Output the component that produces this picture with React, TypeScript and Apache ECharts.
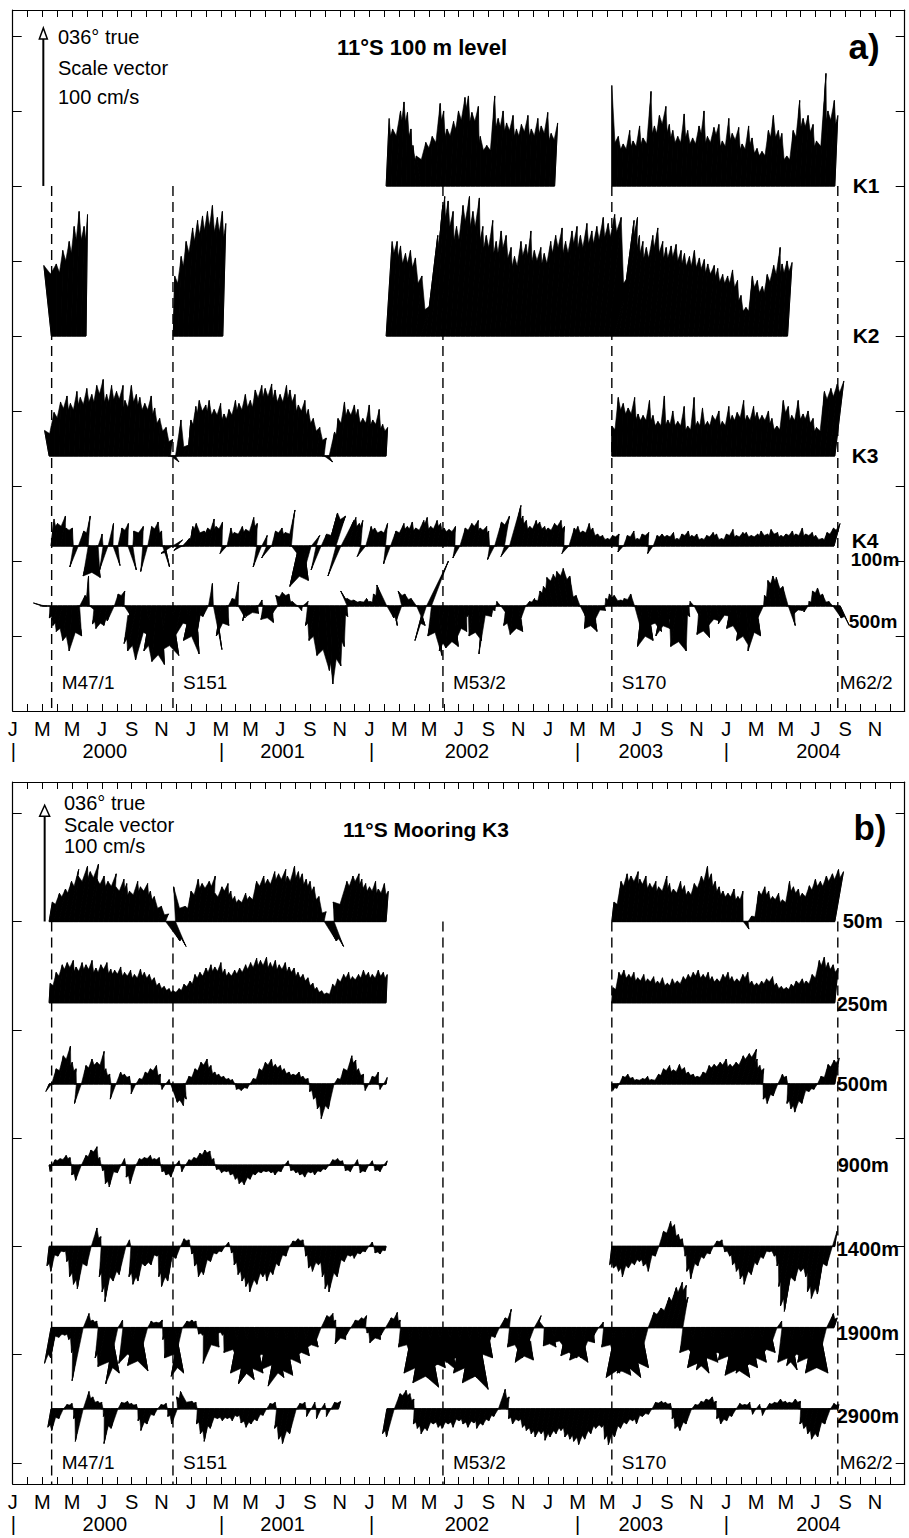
import { useEffect, useRef } from 'react';
import * as echarts from 'echarts';

const FONT = '"Liberation Sans", Arial, Helvetica, sans-serif';
const STEP = 1 / 3; // months between sticks (~10 days)
const NOTCH = 0.88; // drawing only: depth of the gap drawn between two neighbouring sticks

// ---------- axis text ----------
const MONTH_LETTERS = ['J', 'F', 'M', 'A', 'M', 'J', 'J', 'A', 'S', 'O', 'N', 'D'];
const MONTH_LABEL_VALUES = [0, 2, 4, 6, 8, 10, 12, 14, 16, 18, 20, 22, 24, 26, 28, 30, 32, 34, 36, 38, 40, 42, 44, 46, 48, 50, 52, 54, 56, 58];
const YEAR_LABELS = ['|', '2000', '|', '2001', '|', '2002', '|', '2003', '|', '2004'];
const YEAR_LABEL_MONTHS = [0.04, 6.2, 14.05, 18.15, 24.14, 30.55, 38.0, 42.25, 48.0, 54.2];
const CRUISES = ['M47/1', 'S151', 'M53/2', 'S170', 'M62/2'];
const CRUISE_MONTHS = [2.62, 10.78, 28.94, 40.3, 55.5];
const A_TICKS = [0, 50, 100, 150, 200, 250, 300, 350, 400];
const B_TICKS = [0, 100, 200, 300, 400, 500, 600];
const SCALE_VECTOR = 100; // cm/s

// ---------- panel a: 11°S 100 m level (cm/s, along 036° = v, across = u) ----------
const A_LABELS = ['K1', 'K2', 'K3', 'K4', '100m', '500m'];
const A_LABEL_BASES = [300, 200, 120, 60, 60, 20];

const K1_A_START = 25.12;
const K1_A_V = [45, 38, 50, 56, 49, 38, 27, 20, 29, 33, 55, 50, 38, 43, 50, 59, 60, 49, 53, 33, 27, 60, 45, 50, 42, 47, 38, 41, 47, 38, 45, 40, 49, 35, 42];
const K1_A_U = [2, 1, 3, 2, 1, 0, -2, -3, 0, 1, 3, 2, 1, 2, 2, 3, 2, 1, 2, 0, 1, 3, 2, 2, 1, 2, 1, 1, 2, 1, 2, 1, 2, 1, 2];
const K1_B_START = 40.3;
const K1_B_V = [67, 33, 28, 37, 30, 40, 32, 63, 40, 47, 53, 41, 37, 33, 48, 37, 32, 40, 50, 33, 39, 41, 30, 45, 35, 39, 28, 40, 32, 25, 23, 37, 47, 37, 35, 20, 37, 57, 45, 47, 41, 30, 75, 50, 57, 47];
const K1_B_U = [0, 1, 1, 2, 1, 2, 1, 3, 2, 2, 3, 2, 1, 1, 2, 1, 1, 2, 2, 1, 2, 2, 1, 2, 1, 2, 1, 2, 1, 1, 1, 2, 2, 2, 1, 1, 2, 3, 2, 2, 2, 1, 4, 2, 3, 2];

const K2_A_START = 2.6;
const K2_A_V = [47, 48, 57, 63, 73, 83, 73, 81];
const K2_A_U = [-5, 0, 1, 2, 2, 2, 2, 1];
const K2_B_START = 10.8;
const K2_B_V = [40, 53, 63, 72, 77, 80, 83, 87, 79, 83, 75];
const K2_B_U = [1, 2, 2, 3, 3, 3, 3, 3, 3, 3, 2];
const K2_C_START = 25.12;
const K2_C_V = [63, 63, 60, 55, 57, 52, 40, 20, 67, 87, 93, 90, 83, 73, 87, 93, 83, 92, 73, 67, 77, 63, 70, 67, 59, 53, 63, 61, 70, 57, 59, 55, 63, 67, 72, 63, 70, 73, 67, 75, 70, 73, 79, 75, 81, 79, 40, 77, 79, 67, 63, 59, 67, 72, 63, 59, 60, 61, 57, 55, 53, 57, 52, 51, 48, 47, 45, 41, 40, 44, 37, 27, 19, 40, 37, 33, 41, 47, 59, 48, 50, 49];
const K2_C_U = [4, 4, 3, 3, 3, 3, 4, 6, 8, 8, 6, 5, 5, 4, 5, 6, 5, 6, 5, 4, 5, 4, 4, 4, 4, 3, 4, 4, 4, 3, 4, 3, 4, 4, 5, 4, 5, 5, 4, 5, 5, 5, 6, 6, 7, 8, 10, 10, 9, 7, 6, 5, 6, 6, 6, 5, 5, 5, 5, 4, 4, 4, 4, 4, 3, 4, 3, 3, 3, 3, 3, 2, 2, 3, 3, 3, 3, 4, 5, 3, 3, 3];

const K3_A_START = 2.45;
const K3_A_V = [17, 29, 36, 40, 35, 43, 39, 45, 41, 47, 51, 41, 47, 43, 47, 37, 47, 41, 39, 35, 40, 32, 25, 19, 11, -4, 24, 7, 24, 33, 37, 34, 37, 31, 35, 28, 31, 37, 35, 41, 37, 44, 47, 45, 48, 44, 41, 47, 44, 41, 34, 37, 31, 25, 19, 12, -4, 16, 25, 36, 31, 34, 31, 25, 34, 24, 31, 21, 19];
const K3_A_U = [-3, 0, 1, 2, 1, 2, 1, 2, 2, 2, 3, 2, 2, 2, 3, 1, 2, 2, 1, 1, 2, 1, 1, 2, 3, 4, 2, 3, 2, 2, 1, 2, 1, 1, 2, 1, 1, 2, 1, 2, 2, 2, 3, 2, 3, 2, 2, 3, 2, 2, 1, 2, 1, 1, 2, 3, 4, 2, 1, 2, 1, 2, 1, 1, 2, 1, 2, 1, 1];
const K3_B_START = 40.3;
const K3_B_V = [20, 39, 35, 32, 39, 28, 27, 37, 27, 23, 40, 24, 30, 23, 33, 20, 39, 23, 32, 23, 27, 30, 23, 33, 27, 29, 37, 27, 33, 29, 27, 30, 25, 20, 37, 33, 27, 37, 28, 30, 25, 19, 43, 45, 48, 50];
const K3_B_U = [0, 1, 1, 1, 2, 1, 1, 2, 1, 1, 2, 1, 1, 1, 2, 1, 2, 1, 1, 1, 1, 2, 1, 2, 1, 1, 2, 1, 2, 1, 1, 2, 1, 1, 2, 2, 1, 2, 2, 2, 2, 1, 3, 4, 5, 6];

const K4_100_START = 2.58;
const K4_100_V = [18, 15, 20, 12, 12, -14, 10, 20, -20, -21, 8, -16, 15, -13, 12, 15, -16, 10, 13, -17, 13, 16, 10, -14, -5, 4, -3, 5, 13, 15, 10, 12, 18, 13, 16, -5, 12, 9, 13, 11, 19, 15, -14, 7, -8, 10, 12, 9, 24, -10, -27, -23, -20, 7, -16, 8, 22, 20, -20, 17, 19, 15, 17, -7, 13, 12, 10, 15, -12, 10, 15, 13, 16, 12, 17, 19, 13, 17, 15, 12, 11, 13, -8, 12, 15, 17, 12, 13, 10, -9, 16, 20, -7, 27, 20, 17, 13, 17, 16, 13, 12, 15, 17, 13, -5, 12, 13, 10, 15, 12, 8, 7, 5, 7, 8, -4, 7, 10, 5, 8, 9, -5, 7, 8, 7, 9, 5, 8, 10, 7, 8, 5, 7, 9, 8, 5, 8, 11, 7, 9, 9, 7, 8, 10, 8, 11, 9, 7, 8, 10, 8, 12, 8, 9, 7, 5, 9, 12, 15];
const K4_100_U = [2, 1, 3, 0, 1, -4, 2, 3, -5, 3, 1, -4, 2, 3, 1, 2, 4, -1, 2, -3, 1, 2, 1, 3, -6, 5, -4, 3, 2, 1, 3, 2, 3, 1, 2, -3, 1, 0, 2, 1, 3, 2, -4, 2, -5, 1, 2, 1, 4, 6, -6, 3, -4, 4, -5, 2, 6, 8, -7, 7, 5, 4, 3, -4, 2, 1, 2, 3, -3, 2, 4, 3, 3, 2, 4, 3, 2, 3, 2, 1, 1, 2, -3, 2, 3, 4, 2, 3, 1, -3, 3, 5, -4, 6, 4, 3, 2, 3, 2, 2, 1, 2, 3, 2, -3, 2, 1, 1, 2, 1, 1, 1, 1, 1, 2, -2, 1, 2, 1, 1, 2, -2, 1, 1, 1, 2, 1, 1, 2, 1, 1, 1, 1, 2, 1, 1, 1, 2, 1, 2, 1, 1, 2, 1, 2, 1, 2, 1, 1, 2, 1, 2, 1, 2, 1, 2, 2, 3, 4];

const K4_500_START = 2.0;
const K4_500_V = [2, 0, -8, -13, -17, -23, -30, -20, 7, 20, -3, -12, -15, -13, -10, 8, 10, -7, -25, -30, -36, -20, -30, -37, -39, -30, -33, -17, -20, -13, -23, -32, -20, -7, 15, -29, -20, -13, 5, 16, -8, -10, -7, -5, 4, -9, -11, -5, 7, 9, 8, 3, -3, 3, -13, -23, -33, -43, -52, -40, -27, -7, 10, 5, 4, 3, 5, 3, 8, 14, -8, -13, -10, 10, 8, 5, -13, -23, 30, -20, -33, -30, -28, -27, -23, -17, -7, -20, -23, -32, -7, -3, 3, -5, -13, -19, -17, -10, 3, 5, 4, 10, 13, 19, 21, 23, 25, 20, 7, -7, -15, -17, -10, -3, 5, 8, 7, 4, 5, 8, -17, -27, -23, -13, -17, -20, -15, -10, -27, -30, -7, 3, -7, -19, -21, -13, -10, -12, -7, -15, -20, -23, -27, -30, -20, -10, 7, 17, 20, 19, 13, -13, -5, -3, -4, 3, 10, 12, 8, 3, -8, -13];
const K4_500_U = [-6, -5, -2, -3, -4, -3, -2, 3, 2, 1, 2, -3, -4, -2, -3, 1, 2, 3, -5, -6, -4, 3, -5, -3, 2, -4, 5, -6, -4, 3, -5, 2, -3, -2, 1, 4, -3, 2, 1, 2, 3, -2, -3, 2, 1, -3, 2, -2, -3, -2, -1, -2, 1, 2, -3, -4, -2, 3, 2, 4, 3, 2, -6, -5, -4, -3, -2, -3, -4, -5, 3, 2, -2, -4, -3, -2, 4, -6, 13, -4, 2, -3, -2, 3, -2, 2, -1, -3, 2, -3, 2, 1, -1, 2, -3, -2, 3, -2, 1, 1, -2, -2, -3, -4, -3, -4, -3, -2, -1, 2, -2, 3, -2, 2, -1, -2, -2, -1, -2, -1, 3, -3, 4, -2, 3, -4, 2, -3, -4, 3, 2, -1, 2, -3, 2, -2, 2, -2, 3, -3, 2, -3, 2, -2, 3, -3, -1, -2, -2, -3, -2, 3, -1, 1, -1, -1, -2, -2, -2, -1, 4, 6];

// ---------- panel b: 11°S mooring K3 ----------
const B_LABELS = ['50m', '250m', '500m', '900m', '1400m', '1900m', '2900m'];
const B_LABEL_BASES = [500, 425, 350, 275, 200, 125, 50];

const P50_A_START = 2.45;
const P50_A_V = [18, 26, 30, 37, 48, 42, 51, 46, 53, 39, 42, 37, 44, 32, 39, 35, 28, 37, 32, 35, 28, 23, 14, 7, -18, -23, 32, 14, 28, 39, 35, 37, 42, 26, 32, 35, 28, 23, 20, 26, 23, 37, 42, 39, 46, 44, 48, 42, 51, 46, 44, 39, 37, 32, 23, 9, -18, -23, 18, 37, 42, 44, 39, 35, 32, 37, 30, 35, 28];
const P50_A_U = [3, 5, 6, 7, 9, 4, 8, 6, 9, 3, 5, 4, 7, 2, 5, 3, 1, 4, 2, 4, 2, 1, 3, 5, 11, 12, -4, 2, 3, 5, 4, 6, 7, 2, 4, 5, 3, 2, 1, 3, 2, 4, 6, 5, 7, 6, 8, 5, 7, 6, 5, 4, 3, 2, 2, 4, 9, 11, -3, 5, 6, 7, 5, 4, 3, 4, 2, 3, 2];
const P50_B_START = 40.3;
const P50_B_V = [18, 37, 44, 42, 46, 39, 42, 35, 37, 32, 42, 35, 30, 37, 33, 28, 35, 42, 51, 44, 37, 32, 28, 26, 30, 23, 28, -7, 5, 28, 32, 28, 23, 26, 20, 37, 32, 30, 26, 33, 39, 37, 42, 44, 48, 46];
const P50_B_U = [2, 4, 5, 4, 6, 3, 4, 3, 4, 2, 5, 3, 2, 4, 3, 2, 3, 5, 6, 5, 4, 3, 2, 2, 3, 2, 2, 3, 1, 3, 4, 3, 2, 3, 2, 4, 3, 3, 2, 4, 5, 5, 6, 7, 8, 8];

const P250_A_START = 2.45;
const P250_A_V = [18, 28, 35, 37, 39, 33, 37, 35, 39, 32, 35, 37, 31, 30, 33, 28, 30, 26, 31, 28, 26, 23, 18, 15, 13, 11, 13, 17, 20, 26, 28, 32, 35, 33, 37, 31, 28, 30, 32, 35, 37, 41, 39, 42, 37, 39, 35, 37, 33, 32, 28, 26, 23, 18, 14, 11, 9, 17, 22, 26, 28, 24, 26, 30, 28, 26, 30, 28, 26];
const P250_A_U = [1, 2, 3, 3, 4, 2, 3, 2, 3, 2, 2, 3, 2, 1, 2, 1, 2, 1, 2, 1, 1, 1, 1, 1, 1, 0, 1, 1, 2, 2, 2, 3, 3, 2, 3, 2, 1, 2, 2, 3, 3, 4, 3, 4, 3, 3, 2, 3, 2, 2, 1, 1, 1, 1, 0, 0, 0, 1, 1, 2, 2, 1, 2, 2, 2, 1, 2, 2, 1];
const P250_B_START = 40.3;
const P250_B_V = [14, 28, 30, 26, 28, 23, 26, 22, 24, 20, 23, 18, 22, 20, 24, 26, 28, 30, 26, 28, 24, 22, 26, 28, 24, 22, 26, 28, 20, 18, 20, 22, 24, 18, 15, 14, 17, 20, 22, 20, 26, 39, 42, 37, 35, 32];
const P250_B_U = [1, 2, 2, 2, 2, 1, 2, 1, 2, 1, 1, 1, 1, 1, 2, 2, 2, 2, 2, 2, 1, 1, 2, 2, 1, 1, 2, 2, 1, 1, 1, 1, 2, 1, 1, 1, 1, 1, 2, 1, 2, 4, 4, 3, 3, 3];

const P500_A_START = 2.45;
const P500_A_V = [-7, 14, 26, 35, 20, 14, -18, 17, 23, 20, 30, 14, 9, -14, 11, 9, 7, -9, 5, 11, 14, 17, 9, -5, 4, -17, -20, -14, 7, 14, 20, 23, 17, 11, 9, 7, 5, 4, -5, -6, -4, 5, 14, 20, 23, 18, 17, 14, 11, 9, 11, 7, 5, -7, -14, -23, -32, -23, 5, 14, 26, 22, 14, 9, -6, 7, 11, -5, 6];
const P500_A_U = [-3, 2, 4, 6, 3, 2, -4, 2, 3, 3, 5, 2, 1, -3, 2, 1, 1, -2, 1, 2, 2, 3, 2, -1, 1, 4, 5, 3, 1, 2, 3, 4, 3, 2, 1, 1, 1, 0, -1, -1, 0, 1, 2, 3, 4, 3, 3, 2, 2, 1, 2, 1, 1, -2, -3, -4, -5, -3, 1, 2, 5, 4, 2, 2, -1, 1, 2, -1, 1];
const P500_B_START = 40.3;
const P500_B_V = [-6, -4, 7, 9, 6, 4, 5, 7, 4, 9, 14, 17, 13, 18, 15, 11, 9, 7, 11, 17, 18, 20, 23, 18, 20, 26, 28, 32, 23, 17, 14, -14, -18, -11, 9, 7, -18, -23, -26, -18, -7, -5, 7, 18, 22, 24];
const P500_B_U = [1, 0, 1, 1, 1, 0, 1, 1, 0, 2, 2, 3, 2, 3, 3, 2, 2, 1, 2, 3, 3, 4, 5, 4, 5, 7, 8, 10, 6, 4, 3, -2, -3, -2, 2, 1, -3, -4, -5, -3, -1, -1, 1, 3, 4, 4];

const P900_START = 2.45;
const P900_V = [-6, 5, 6, 9, 7, -9, -14, 9, 14, 17, 7, -5, -17, -20, -7, 6, -11, -17, 6, 7, 9, 6, 7, -6, -9, -11, 4, -6, 5, 7, 11, 14, 13, 6, -4, -7, -6, -9, -13, -17, -18, -13, -9, -7, -6, -7, -9, -6, 4, -5, -7, -9, -11, -7, -9, -6, -4, 5, 6, 4, -5, -6, 5, -7, -6, 4, -5, -6, 4];
const P900_U = [1, 1, 1, 2, 1, -2, -3, 2, 2, 3, 1, -1, -3, -4, -1, 1, -2, -3, 1, 1, 2, 1, 1, -1, -2, -2, 1, -1, 1, 1, 2, 2, 2, 1, -1, -1, -1, -2, -2, -3, -3, -2, -2, -1, -1, -1, -2, -1, 1, -1, -1, -2, -2, -1, -2, -1, -1, 1, 1, 1, -1, -1, 1, -1, -1, 1, -1, -1, 1];

const P1400_A_START = 2.45;
const P1400_A_V = [-18, -23, -9, -5, -14, -28, -35, -39, -18, 17, 9, -28, -42, -51, -32, -26, 6, -28, -35, -32, -18, -17, -9, -28, -37, -32, -11, 7, 6, -7, -18, -28, -26, -14, -7, -5, 4, -6, -17, -26, -32, -37, -42, -35, -28, -32, -26, -18, -9, 5, 7, 6, -9, -20, -23, -17, -28, -39, -42, -28, -14, -9, -11, -7, -5, 4, -6, -7, -4];
const P1400_A_U = [-2, -3, -1, 0, -2, -4, -5, -6, -2, 3, 2, -4, -6, -8, -5, -4, 1, -4, -5, -5, -3, -2, -1, -4, -6, -5, -2, 1, 1, -1, -3, -4, -4, -2, -1, -1, 1, -1, -3, -4, -5, -6, -7, -5, -4, -5, -4, -3, -1, 1, 1, 1, -1, -3, -4, -3, -4, -6, -7, -4, -2, -1, -2, -1, -1, 1, -1, -1, -1];
const P1400_B_START = 40.3;
const P1400_B_V = [-17, -20, -23, -28, -20, -17, -14, -18, -23, -9, 14, 23, 20, 11, 7, -9, -23, -30, -18, -11, -7, 5, 6, -5, -9, -17, -23, -30, -35, -26, -17, -11, -5, -9, -18, -37, -55, -60, -32, -23, -28, -42, -48, -44, -18, 14];
const P1400_B_U = [-2, -3, -3, -4, -3, -2, -2, -3, -3, -1, 2, 4, 3, 2, 1, -1, -4, -5, -3, -2, -1, 1, 1, -1, -1, -3, -4, -5, -6, -4, -3, -2, -1, -1, -3, -6, -9, -10, -5, -4, -4, -7, -8, -7, -3, 2];

const P1900_START = 2.58;
const P1900_V = [-33, -28, -9, -7, -11, -23, -49, 13, 7, 6, -28, -36, -42, -52, 7, -33, -28, -35, -40, -23, 6, 5, 7, -11, -28, -42, -45, 6, 7, 6, -6, -7, -33, -18, -5, -7, -23, -37, -42, -48, -52, -42, -35, -28, -39, -46, -54, -44, -37, -33, -28, -26, -20, -18, -14, 11, 13, 7, -15, -11, -7, 7, 9, 11, -5, -14, -11, -7, 9, 14, 7, -18, -37, -42, -46, -51, -55, -42, -37, -35, -39, -32, -37, -42, -46, -51, -57, -46, -28, -23, -9, 9, 17, -18, -28, -32, -30, -14, 11, 7, -17, -18, -14, -20, -26, -28, -30, -32, -28, -14, -7, 5, -18, -42, -46, -44, -42, -46, -39, -37, -28, 14, 18, 28, 37, 42, 39, 28, -23, -28, -37, -42, -39, -32, -28, -26, -30, -37, -44, -46, -42, -37, -35, -32, -28, -23, -18, 6, -32, -39, -35, -28, -32, -37, -42, -42, -37, 13, 9];
const P1900_U = [-6, -5, -2, -1, -2, -4, -8, 3, 2, 1, -5, -7, 8, -9, 2, -6, 5, -7, 7, -4, 1, 1, 2, -2, -5, 8, -8, 2, 2, 1, -1, -2, -6, 4, -1, -2, -5, 7, -8, 9, -10, 8, -7, 6, -8, 9, -10, 8, -7, 6, -5, 5, -4, 4, -3, 3, 4, 2, -3, 2, -2, 2, 3, 3, -1, -3, 2, -2, 3, 4, 2, -4, 7, -8, 9, -9, 10, -8, 7, -7, 8, -6, 7, -8, 9, -9, 10, -9, 5, -5, -2, 3, 4, -4, 5, -6, 6, -3, 4, -3, -3, 4, -3, 4, -5, 5, -6, 6, -5, 3, -2, 2, -4, 8, -9, 9, -8, 9, -7, 7, -5, 3, 5, 8, 10, 11, 10, 7, -5, 6, -7, 8, -8, 7, -6, 5, -6, 7, -9, 9, -8, 7, -7, 6, -6, 5, -4, 2, -6, 7, -7, 6, -6, 7, -8, 8, -7, 4, 3];

const P2900_A_START = 2.58;
const P2900_A_V = [-17, -20, -9, 4, 5, -9, -30, 16, 11, 7, 6, -7, -32, -18, 6, 7, 5, 4, -11, -20, -14, -6, 4, 5, -7, -14, 11, 16, 7, 6, -14, -23, -30, -18, -9, -11, -9, -11, -7, -13, -17, -14, -11, -6, 5, 6, -18, -28, -32, -23, 5, 6, -7, 6, -9, 5, -7, 6, 7];
const P2900_A_U = [-3, -4, -2, 1, 1, -2, -5, 3, 2, 2, 1, -2, -6, -4, 1, 2, 1, 1, -2, -4, -3, -1, 1, 1, -2, -3, -3, -4, 2, 1, -3, -4, -5, -4, -2, -2, -2, -2, -2, -3, -3, -3, -2, -1, 1, 1, -4, -5, -6, -4, 1, 1, -2, 1, -2, 1, -2, 1, 2];
const P2900_B_START = 25.17;
const P2900_B_V = [-23, -26, 14, 17, 14, 9, -14, -18, -23, -20, -14, -17, -18, -14, -17, -11, -14, -17, -13, -18, -15, -11, -7, 18, 11, -9, -14, -11, -17, -20, -23, -26, -23, -29, -26, -23, -20, -26, -28, -30, -33, -28, -23, -18, -17, -28, -33, -26, -18, -14, -11, -14, -7, -5, 6, 7, 6, 5, -9, -18, -20, -14, 4, 7, 9, 11, 7, -9, -14, -11, -7, 5, 4, 6, -5, 4, -6, 5, 6, 9, 7, 6, 9, 7, -14, -18, -23, -28, -26, -14, 5, 4];
const P2900_B_U = [-4, -5, 3, 4, 3, 2, -3, -4, -5, -4, -3, -3, -4, -3, -3, -2, -3, -3, -2, -4, -3, -2, -2, 4, 3, -2, -3, -2, -3, -4, -4, -5, -4, -5, -5, -4, -4, -5, -5, -6, -6, -5, -4, -4, -3, -5, -6, -5, -4, -3, -2, -3, -2, -1, 1, 2, 1, 1, -2, -4, -4, -3, 1, 2, 2, 3, 2, -2, -3, -2, -2, 1, 1, 1, -1, 1, -1, 1, 1, 2, 2, 1, 2, 2, -3, -4, -5, -6, -5, -3, 1, 1];

// ---------- tables built from the arrays ----------
const PANEL_A_SEGMENTS = [
  [K1_A_START, 300, K1_A_V, K1_A_U], [K1_B_START, 300, K1_B_V, K1_B_U],
  [K2_A_START, 200, K2_A_V, K2_A_U], [K2_B_START, 200, K2_B_V, K2_B_U], [K2_C_START, 200, K2_C_V, K2_C_U],
  [K3_A_START, 120, K3_A_V, K3_A_U], [K3_B_START, 120, K3_B_V, K3_B_U],
  [K4_100_START, 60, K4_100_V, K4_100_U],
  [K4_500_START, 20, K4_500_V, K4_500_U],
];
const PANEL_B_SEGMENTS = [
  [P50_A_START, 500, P50_A_V, P50_A_U], [P50_B_START, 500, P50_B_V, P50_B_U],
  [P250_A_START, 425, P250_A_V, P250_A_U], [P250_B_START, 425, P250_B_V, P250_B_U],
  [P500_A_START, 350, P500_A_V, P500_A_U], [P500_B_START, 350, P500_B_V, P500_B_U],
  [P900_START, 275, P900_V, P900_U],
  [P1400_A_START, 200, P1400_A_V, P1400_A_U], [P1400_B_START, 200, P1400_B_V, P1400_B_U],
  [P1900_START, 125, P1900_V, P1900_U],
  [P2900_A_START, 50, P2900_A_V, P2900_A_U], [P2900_B_START, 50, P2900_B_V, P2900_B_U],
];

function buildStickData(segments: any[]) {
  const out: number[][] = [];
  segments.forEach(([start, base, v, u]) => {
    v.forEach((val: number, i: number) => {
      const hasNext = i + 1 < v.length;
      out.push([
        start + i * STEP, base, val, u[i] || 0,
        hasNext ? start + (i + 1) * STEP : -1,
        hasNext ? v[i + 1] : 0,
        hasNext ? u[i + 1] || 0 : 0,
      ]);
    });
  });
  return out;
}

// one side (above or below the base line) of the band between two neighbouring sticks
function sidePolygon(p0: number[], p1: number[], v: number, u: number, vn: number, un: number, k: number, sign: number) {
  const a = sign > 0 ? Math.max(v, 0) : Math.min(v, 0);
  const b = sign > 0 ? Math.max(vn, 0) : Math.min(vn, 0);
  if (a === 0 && b === 0) return null;
  const ua = a !== 0 ? u : 0;
  const ub = b !== 0 ? un : 0;
  const m = (sign > 0 ? Math.min(a, b) : Math.max(a, b)) * NOTCH;
  const mu = m !== 0 ? ((ua + ub) / 2) * NOTCH : 0;
  const y = p0[1];
  return {
    type: 'polygon',
    shape: {
      points: [
        [p0[0], y],
        [p0[0] + ua * k, y - a * k],
        [(p0[0] + p1[0]) / 2 + mu * k, y - m * k],
        [p1[0] + ub * k, y - b * k],
        [p1[0], y],
      ],
    },
    style: { fill: '#000', stroke: '#000', lineWidth: 0.6 },
  };
}

const renderSticks = (params: any, api: any) => {
  const t = api.value(0), base = api.value(1), v = api.value(2), u = api.value(3);
  const tn = api.value(4), vn = api.value(5), un = api.value(6);
  const k = api.size([0, 1])[1];
  const p0 = api.coord([t, base]);
  const tip0 = [p0[0] + u * k, p0[1] - v * k];
  const children: any[] = [];
  if (tn >= 0) {
    const p1 = api.coord([tn, base]);
    const up = sidePolygon(p0, p1, v, u, vn, un, k, 1);
    const down = sidePolygon(p0, p1, v, u, vn, un, k, -1);
    if (up) children.push(up);
    if (down) children.push(down);
    children.push({ type: 'line', shape: { x1: p0[0], y1: p0[1], x2: p1[0], y2: p1[1] }, style: { stroke: '#000', lineWidth: 1.4 } });
  }
  children.push({ type: 'line', shape: { x1: p0[0], y1: p0[1], x2: tip0[0], y2: tip0[1] }, style: { stroke: '#000', lineWidth: 1 } });
  return { type: 'group', children };
};

const renderArrow = (headW: number) => (params: any, api: any) => {
  const t = api.value(0), base = api.value(1), len = api.value(2);
  const p0 = api.coord([t, base]);
  const p1 = api.coord([t, base + len]);
  return {
    type: 'group',
    children: [
      { type: 'line', shape: { x1: p0[0], y1: p0[1], x2: p1[0], y2: p1[1] + 2 }, style: { stroke: '#000', lineWidth: 2 } },
      { type: 'polygon', shape: { points: [[p1[0], p1[1] - 8], [p1[0] - headW / 2, p1[1] + 3], [p1[0] + headW / 2, p1[1] + 3]] }, style: { fill: '#fff', stroke: '#000', lineWidth: 1.5 } },
    ],
  };
};

const CRUISE_LABEL_DX = [10, 10, 10, 10, 2];
const renderCruise = (params: any, api: any) => {
  const i = params.dataIndex;
  const m = api.value(0);
  const pTop = api.coord([m, api.value(1)]);
  const pBot = api.coord([m, api.value(2)]);
  const pLab = api.coord([m, api.value(3)]);
  return {
    type: 'group',
    children: [
      { type: 'line', shape: { x1: pTop[0], y1: pTop[1], x2: pBot[0], y2: pBot[1] }, style: { stroke: '#000', lineWidth: 1.4, lineDash: [10, 6] } },
      { type: 'text', x: pLab[0] + CRUISE_LABEL_DX[i], y: pLab[1], style: { text: CRUISES[i], font: `19px ${FONT}`, fill: '#000', align: 'left', verticalAlign: 'middle' } },
    ],
  };
};

const A_LABEL_DX = [-52, -52, -53, -53, -54, -56];
const A_LABEL_DY = [0, 0, 0, -5, 14, 16];
const A_LABEL_SIZE = [21, 21, 21, 21, 19, 19];
const B_LABEL_DX = [-62, -68, -68, -67, -68, -68, -68];
const B_LABEL_DY = [0, 1, 0, 0, 3, 5, 7];
const B_LABEL_SIZE = [20, 20, 20, 20, 20, 20, 20];
const renderSideLabels = (names: string[], dxs: number[], dys: number[], sizes: number[]) => (params: any, api: any) => {
  const i = params.dataIndex;
  const p = api.coord([0, api.value(1)]);
  const cs = params.coordSys;
  return {
    type: 'text', x: cs.x + cs.width + dxs[i], y: p[1] + dys[i],
    style: { text: names[i], font: `bold ${sizes[i]}px ${FONT}`, fill: '#000', align: 'left', verticalAlign: 'middle' },
  };
};

function monthAxes(grid: number) {
  const line = { show: true, onZero: false, lineStyle: { color: '#000', width: 1.2 } };
  return [
    {
      type: 'value', gridIndex: grid, position: 'bottom', min: 0, max: 60, interval: 1,
      axisLine: line,
      axisTick: { show: true, inside: true, length: 7, lineStyle: { color: '#000', width: 1 } },
      axisLabel: {
        show: true, customValues: MONTH_LABEL_VALUES, margin: 8,
        formatter: (v: number) => MONTH_LETTERS[Math.round(v) % 12],
        color: '#000', fontSize: 20, fontFamily: FONT,
      },
      splitLine: { show: false },
    },
    {
      type: 'value', gridIndex: grid, position: 'top', min: 0, max: 60, interval: 1,
      axisLine: line,
      axisTick: { show: true, inside: true, length: 7, lineStyle: { color: '#000', width: 1 } },
      axisLabel: { show: false },
      splitLine: { show: false },
    },
    {
      type: 'value', gridIndex: grid, position: 'bottom', offset: 22, min: 0, max: 60,
      axisLine: { show: false }, axisTick: { show: false },
      axisLabel: {
        show: true, customValues: YEAR_LABEL_MONTHS, margin: 8,
        formatter: (v: number) => {
          const i = YEAR_LABEL_MONTHS.findIndex((m) => Math.abs(m - v) < 1e-6);
          return i >= 0 ? YEAR_LABELS[i] : '';
        },
        color: '#000', fontSize: 20, fontFamily: FONT,
      },
      splitLine: { show: false },
    },
  ];
}

function valueAxes(grid: number, min: number, max: number, ticks: number[]) {
  const base = {
    type: 'value', gridIndex: grid, min, max,
    axisLine: { show: true, onZero: false, lineStyle: { color: '#000', width: 1.2 } },
    axisTick: { show: true, inside: true, length: 9, customValues: ticks, lineStyle: { color: '#000', width: 1 } },
    axisLabel: { show: false },
    splitLine: { show: false },
  };
  return [{ ...base, position: 'left' }, { ...base, position: 'right' }];
}

export default function App() {
  const ref = useRef<HTMLDivElement>(null);
  useEffect(() => {
    if (!ref.current) return;
    const chart = echarts.init(ref.current, null, { renderer: 'svg' });
    const textStyle = (size: number, weight = 'normal') => ({ font: `${weight} ${size}px ${FONT}`, fill: '#000' });
    const option: any = {
      animation: false,
      backgroundColor: '#fff',
      grid: [
        { left: 12.7, top: 10, width: 892, height: 701 },
        { left: 12.7, top: 782, width: 892, height: 702 },
      ],
      xAxis: [...monthAxes(0), ...monthAxes(1)],
      yAxis: [...valueAxes(0, -50, 417.3, A_TICKS), ...valueAxes(1, -19.4, 628.8, B_TICKS)],
      series: [
        {
          type: 'custom', name: 'cruisesA', xAxisIndex: 0, yAxisIndex: 0, clip: false, silent: true,
          data: CRUISE_MONTHS.map((m) => [m, 300, -50, -31]), renderItem: renderCruise, z: 1,
        },
        {
          type: 'custom', name: 'cruisesB', xAxisIndex: 3, yAxisIndex: 2, clip: false, silent: true,
          data: CRUISE_MONTHS.map((m) => [m, 500, -19.4, 0.5]), renderItem: renderCruise, z: 1,
        },
        {
          type: 'custom', name: 'sticksA', xAxisIndex: 0, yAxisIndex: 0, clip: false, silent: true,
          data: buildStickData(PANEL_A_SEGMENTS), renderItem: renderSticks, z: 2,
        },
        {
          type: 'custom', name: 'sticksB', xAxisIndex: 3, yAxisIndex: 2, clip: false, silent: true,
          data: buildStickData(PANEL_B_SEGMENTS), renderItem: renderSticks, z: 2,
        },
        {
          type: 'custom', name: 'scaleA', xAxisIndex: 0, yAxisIndex: 0, clip: false, silent: true,
          data: [[2.06, 300, SCALE_VECTOR]], renderItem: renderArrow(8), z: 3,
        },
        {
          type: 'custom', name: 'scaleB', xAxisIndex: 3, yAxisIndex: 2, clip: false, silent: true,
          data: [[2.15, 500, SCALE_VECTOR]], renderItem: renderArrow(10), z: 3,
        },
        {
          type: 'custom', name: 'labelsA', xAxisIndex: 0, yAxisIndex: 0, clip: false, silent: true,
          data: A_LABEL_BASES.map((b) => [0, b]), renderItem: renderSideLabels(A_LABELS, A_LABEL_DX, A_LABEL_DY, A_LABEL_SIZE), z: 4,
        },
        {
          type: 'custom', name: 'labelsB', xAxisIndex: 3, yAxisIndex: 2, clip: false, silent: true,
          data: B_LABEL_BASES.map((b) => [0, b]), renderItem: renderSideLabels(B_LABELS, B_LABEL_DX, B_LABEL_DY, B_LABEL_SIZE), z: 4,
        },
      ],
      graphic: [
        { type: 'text', x: 422, y: 47, style: { text: '11°S 100 m level', ...textStyle(22, 'bold'), align: 'center', verticalAlign: 'middle' } },
        { type: 'text', x: 864, y: 46, style: { text: 'a)', ...textStyle(35, 'bold'), align: 'center', verticalAlign: 'middle' } },
        { type: 'text', x: 58, y: 37, style: { text: '036° true', ...textStyle(20), align: 'left', verticalAlign: 'middle' } },
        { type: 'text', x: 58, y: 67.5, style: { text: 'Scale vector', ...textStyle(20), align: 'left', verticalAlign: 'middle' } },
        { type: 'text', x: 58, y: 97, style: { text: '100 cm/s', ...textStyle(20), align: 'left', verticalAlign: 'middle' } },
        { type: 'text', x: 426, y: 829, style: { text: '11°S Mooring K3', ...textStyle(21, 'bold'), align: 'center', verticalAlign: 'middle' } },
        { type: 'text', x: 870, y: 827, style: { text: 'b)', ...textStyle(35, 'bold'), align: 'center', verticalAlign: 'middle' } },
        { type: 'text', x: 64, y: 802.5, style: { text: '036° true', ...textStyle(20), align: 'left', verticalAlign: 'middle' } },
        { type: 'text', x: 64, y: 824.5, style: { text: 'Scale vector', ...textStyle(20), align: 'left', verticalAlign: 'middle' } },
        { type: 'text', x: 64, y: 846, style: { text: '100 cm/s', ...textStyle(20), align: 'left', verticalAlign: 'middle' } },
      ],
    };
    chart.setOption(option);
    return () => chart.dispose();
  }, []);
  return <div ref={ref} style={{ position: 'absolute', left: 0, top: 0, width: 909, height: 1538, background: '#fff' }} />;
}
